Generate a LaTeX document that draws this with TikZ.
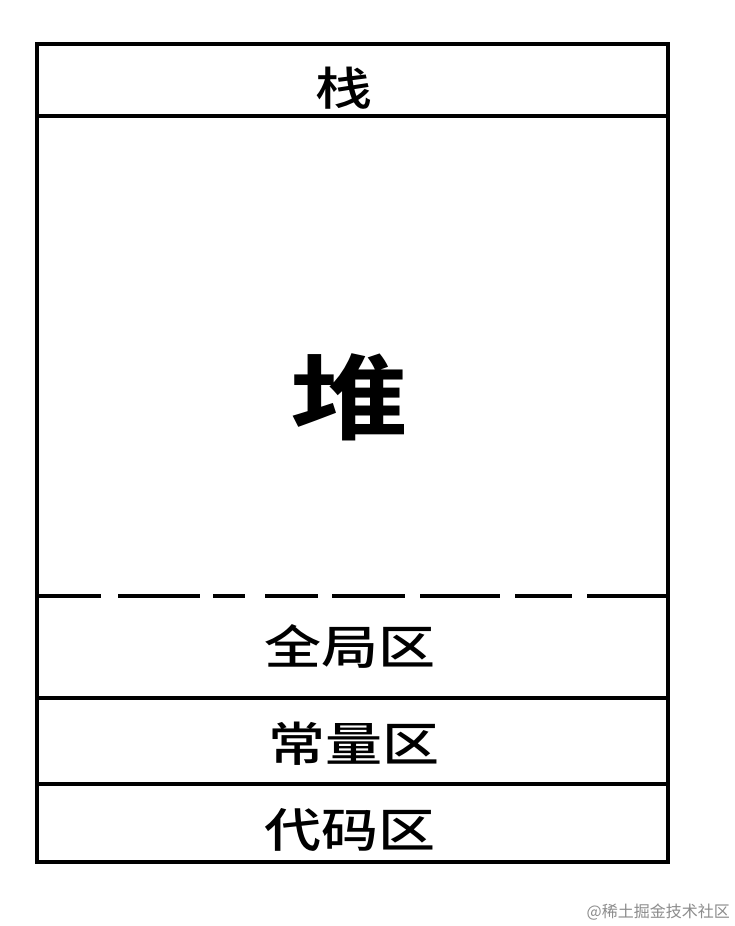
\documentclass[tikz,border=0pt]{standalone}
\usepackage{fontspec}
\usepackage{graphicx}
\newfontfamily\cjk{Noto Sans CJK SC}
\newfontfamily\cjkm{Noto Sans CJK SC Medium}
\newfontfamily\cjkb{Noto Sans CJK SC Bold}
\newcommand{\squat}[2]{\scalebox{1}[#1]{#2}}
\begin{document}
\begin{tikzpicture}[x=1pt,y=-1pt,
  wall/.style={line width=4pt,black},
  label/.style={font=\cjkm\fontsize{57}{57}\selectfont,inner sep=0pt,anchor=center},
  bigl/.style={font=\cjkb\fontsize{118}{118}\selectfont,inner sep=0pt,anchor=center},
  wmark/.style={font=\cjk\fontsize{16}{16}\selectfont,text=black!45,inner sep=0pt,anchor=east}]
\useasboundingbox[fill=white] (0,0) rectangle (734,926);
\draw[wall] (37,44) rectangle (668,862);
\draw[wall] (37,116) -- (668,116);
\draw[wall] (37,698) -- (668,698);
\draw[wall] (37,784) -- (668,784);
\foreach \a/\b in {37/101,118/200,213/245,265/318,332/405,420/500,515/572,587/668}
  \draw[wall] (\a,596) -- (\b,596);
\node[label] (zhan) at (344,88) {\squat{0.8}{栈}};
\node[bigl] (dui) at (349,397) {\squat{0.79}{堆}};
\node[label] (quanju) at (350,646) {\squat{0.82}{全局区}};
\node[label] (changliang) at (354,744) {\squat{0.82}{常量区}};
\node[label] (daima) at (350,830) {\squat{0.82}{代码区}};
\node[wmark] (wm) at (730,912) {@稀土掘金技术社区};
\end{tikzpicture}
\end{document}
